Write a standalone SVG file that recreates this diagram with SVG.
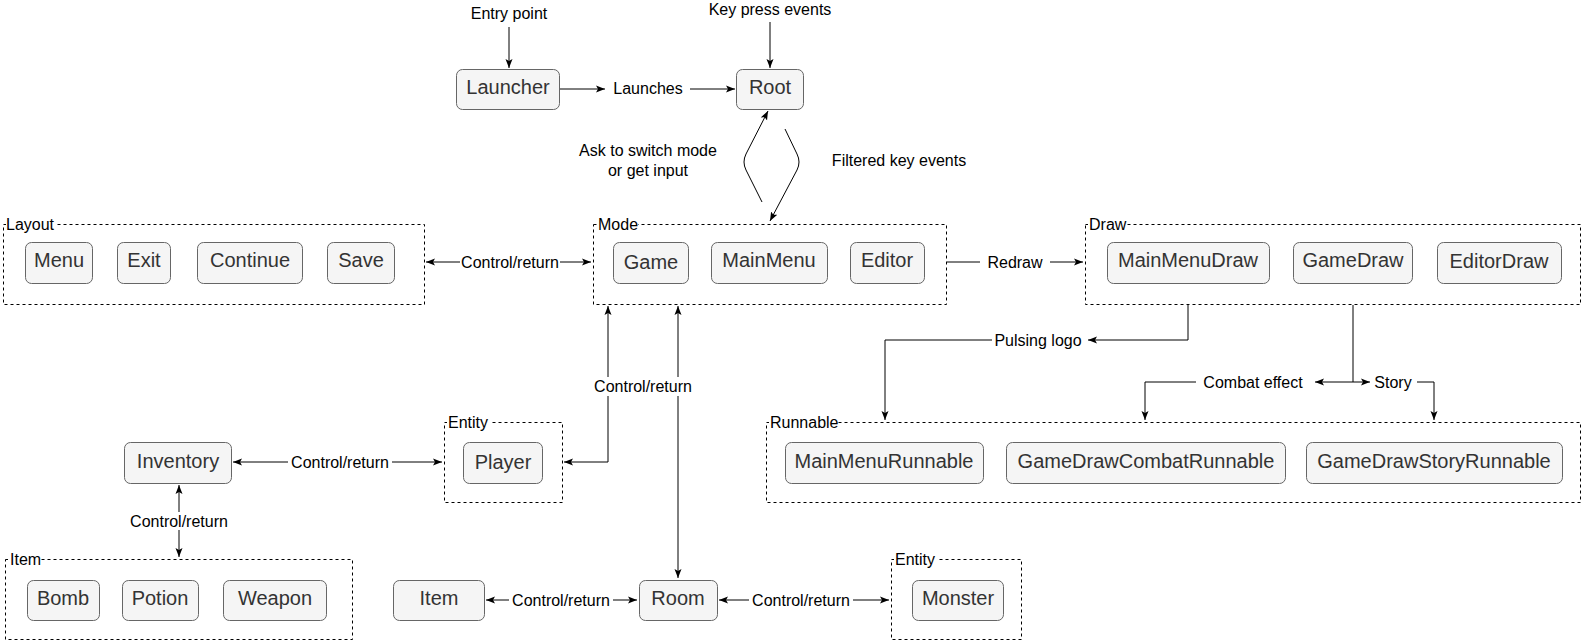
<svg xmlns="http://www.w3.org/2000/svg" width="1583" height="642" viewBox="0 0 1583 642">
<defs>
<marker id="arr" markerUnits="userSpaceOnUse" markerWidth="10" markerHeight="8" refX="9" refY="4" orient="auto-start-reverse">
<path d="M0,0.5 L9,4 L0,7.5 L2,4 Z" fill="#000"/>
</marker>
<style>
.n rect{fill:#f5f5f5;stroke:#666666;stroke-width:1}
.n text{font-family:"Liberation Sans",Arial,sans-serif;font-size:20px;fill:#333333;text-anchor:middle}
.box{fill:none;stroke:#000;stroke-width:1;stroke-dasharray:3 3}
.cl{font-family:"Liberation Sans",Arial,sans-serif;font-size:16px;fill:#000}
.lbl{font-family:"Liberation Sans",Arial,sans-serif;font-size:16px;fill:#000;text-anchor:middle}
.e{fill:none;stroke:#000;stroke-width:1}
.bg{fill:#fff;stroke:none}
</style>
</defs>
<rect width="1583" height="642" fill="#fff"/>

<!-- containers -->
<g id="layout">
<rect class="box" x="3.5" y="224.5" width="421" height="80"/>
<rect class="bg" x="6" y="216" width="49" height="16"/>
<text class="cl" x="6" y="230">Layout</text>
</g>
<g id="mode">
<rect class="box" x="593.5" y="224.5" width="353" height="80"/>
<rect class="bg" x="597" y="216" width="41" height="16"/>
<text class="cl" x="598" y="230">Mode</text>
</g>
<g id="draw">
<rect class="box" x="1085.5" y="224.5" width="495" height="80"/>
<rect class="bg" x="1088" y="216" width="39" height="16"/>
<text class="cl" x="1089" y="230">Draw</text>
</g>
<g id="runnable">
<rect class="box" x="766.5" y="422.5" width="814" height="80"/>
<rect class="bg" x="769" y="414" width="69" height="16"/>
<text class="cl" x="770" y="428">Runnable</text>
</g>
<g id="entity-player">
<rect class="box" x="444.5" y="422.5" width="118" height="80"/>
<rect class="bg" x="447" y="414" width="44" height="16"/>
<text class="cl" x="448" y="428">Entity</text>
</g>
<g id="item-group">
<rect class="box" x="5.5" y="559.5" width="347" height="80"/>
<rect class="bg" x="8" y="551" width="33" height="16"/>
<text class="cl" x="10" y="565">Item</text>
</g>
<g id="entity-monster">
<rect class="box" x="891.5" y="559.5" width="130" height="80"/>
<rect class="bg" x="894" y="551" width="44" height="16"/>
<text class="cl" x="895" y="565">Entity</text>
</g>

<!-- connectors -->
<g id="connectors">
<path class="e" d="M509,27 L509,68" marker-end="url(#arr)"/>
<path class="e" d="M770,22 L770,68" marker-end="url(#arr)"/>
<path class="e" d="M559.5,89 L605,89" marker-end="url(#arr)"/>
<path class="e" d="M689,89 L735,89" marker-end="url(#arr)"/>
<path class="e" d="M762,202 L746,170 Q742,162 746,154 L768,111" marker-end="url(#arr)"/>
<path class="e" d="M785,129 L797,154 Q801,162 797,170 L770,221" marker-end="url(#arr)"/>
<path class="e" d="M426,262 L591,262" marker-start="url(#arr)" marker-end="url(#arr)"/>
<path class="e" d="M947,262 L1083,262" marker-end="url(#arr)"/>
<path class="e" d="M1188,305 L1188,340 L1088,340" marker-end="url(#arr)"/>
<path class="e" d="M994,340 L885,340 L885,420" marker-end="url(#arr)"/>
<path class="e" d="M1353,305 L1353,382 L1315,382" marker-end="url(#arr)"/>
<path class="e" d="M1353,382 L1370,382" marker-end="url(#arr)"/>
<path class="e" d="M1196,382 L1145,382 L1145,420" marker-end="url(#arr)"/>
<path class="e" d="M1417,382 L1434,382 L1434,420" marker-end="url(#arr)"/>
<path class="e" d="M608,306 L608,462 L564,462" marker-start="url(#arr)" marker-end="url(#arr)"/>
<path class="e" d="M678,306 L678,578" marker-start="url(#arr)" marker-end="url(#arr)"/>
<path class="e" d="M233,462 L442,462" marker-start="url(#arr)" marker-end="url(#arr)"/>
<path class="e" d="M179,485 L179,557" marker-start="url(#arr)" marker-end="url(#arr)"/>
<path class="e" d="M486,600 L637,600" marker-start="url(#arr)" marker-end="url(#arr)"/>
<path class="e" d="M719,600 L889,600" marker-start="url(#arr)" marker-end="url(#arr)"/>
</g>

<!-- labels -->
<g id="labels">
<text class="lbl" x="509" y="19">Entry point</text>
<text class="lbl" x="770" y="15">Key press events</text>
<rect class="bg" x="606" y="80" width="84" height="18"/>
<text class="lbl" x="648" y="94">Launches</text>
<text class="lbl" x="648" y="156">Ask to switch mode</text>
<text class="lbl" x="648" y="176">or get input</text>
<text class="lbl" x="899" y="166">Filtered key events</text>
<rect class="bg" x="460" y="253" width="100" height="18"/>
<text class="lbl" x="510" y="268">Control/return</text>
<rect class="bg" x="980" y="253" width="70" height="18"/>
<text class="lbl" x="1015" y="268">Redraw</text>
<rect class="bg" x="992" y="331" width="94" height="18"/>
<text class="lbl" x="1038" y="346">Pulsing logo</text>
<rect class="bg" x="1196" y="373" width="116" height="18"/>
<text class="lbl" x="1253" y="388">Combat effect</text>
<rect class="bg" x="1372" y="373" width="44" height="18"/>
<text class="lbl" x="1393" y="388">Story</text>
<rect class="bg" x="592" y="377" width="104" height="19"/>
<text class="lbl" x="643" y="392">Control/return</text>
<rect class="bg" x="288" y="453" width="104" height="18"/>
<text class="lbl" x="340" y="468">Control/return</text>
<rect class="bg" x="127" y="512" width="104" height="18"/>
<text class="lbl" x="179" y="527">Control/return</text>
<rect class="bg" x="509" y="591" width="104" height="18"/>
<text class="lbl" x="561" y="606">Control/return</text>
<rect class="bg" x="749" y="591" width="104" height="18"/>
<text class="lbl" x="801" y="606">Control/return</text>
</g>

<!-- nodes -->
<g id="launcher" class="n"><rect x="456.5" y="69.5" width="103" height="40" rx="6"/><text x="508" y="94">Launcher</text></g>
<g id="root" class="n"><rect x="736.5" y="69.5" width="67" height="40" rx="6"/><text x="770" y="94">Root</text></g>
<g id="menu" class="n"><rect x="25.5" y="242.5" width="67" height="41" rx="6"/><text x="59" y="267">Menu</text></g>
<g id="exit" class="n"><rect x="117.5" y="242.5" width="53" height="41" rx="6"/><text x="144" y="267">Exit</text></g>
<g id="continue" class="n"><rect x="197.5" y="242.5" width="105" height="41" rx="6"/><text x="250" y="267">Continue</text></g>
<g id="save" class="n"><rect x="327.5" y="242.5" width="67" height="41" rx="6"/><text x="361" y="267">Save</text></g>
<g id="game" class="n"><rect x="613.5" y="242.5" width="75" height="41" rx="6"/><text x="651" y="269">Game</text></g>
<g id="mainmenu" class="n"><rect x="711.5" y="242.5" width="116" height="41" rx="6"/><text x="769" y="267">MainMenu</text></g>
<g id="editor" class="n"><rect x="850.5" y="242.5" width="74" height="41" rx="6"/><text x="887" y="267">Editor</text></g>
<g id="mainmenudraw" class="n"><rect x="1107.5" y="242.5" width="162" height="41" rx="6"/><text x="1188" y="267">MainMenuDraw</text></g>
<g id="gamedraw" class="n"><rect x="1293.5" y="242.5" width="119" height="41" rx="6"/><text x="1353" y="267">GameDraw</text></g>
<g id="editordraw" class="n"><rect x="1437.5" y="242.5" width="124" height="41" rx="6"/><text x="1499" y="268">EditorDraw</text></g>
<g id="mainmenurunnable" class="n"><rect x="785.5" y="442.5" width="198" height="41" rx="6"/><text x="884" y="468">MainMenuRunnable</text></g>
<g id="gamedrawcombatrunnable" class="n"><rect x="1006.5" y="442.5" width="279" height="41" rx="6"/><text x="1146" y="468">GameDrawCombatRunnable</text></g>
<g id="gamedrawstoryrunnable" class="n"><rect x="1306.5" y="442.5" width="256" height="41" rx="6"/><text x="1434" y="468">GameDrawStoryRunnable</text></g>
<g id="inventory" class="n"><rect x="124.5" y="442.5" width="107" height="41" rx="6"/><text x="178" y="468">Inventory</text></g>
<g id="player" class="n"><rect x="463.5" y="442.5" width="79" height="41" rx="6"/><text x="503" y="469">Player</text></g>
<g id="bomb" class="n"><rect x="27.5" y="580.5" width="72" height="40" rx="6"/><text x="63" y="605">Bomb</text></g>
<g id="potion" class="n"><rect x="122.5" y="580.5" width="76" height="40" rx="6"/><text x="160" y="605">Potion</text></g>
<g id="weapon" class="n"><rect x="223.5" y="580.5" width="103" height="40" rx="6"/><text x="275" y="605">Weapon</text></g>
<g id="item" class="n"><rect x="393.5" y="580.5" width="91" height="40" rx="6"/><text x="439" y="605">Item</text></g>
<g id="room" class="n"><rect x="639.5" y="580.5" width="78" height="40" rx="6"/><text x="678" y="605">Room</text></g>
<g id="monster" class="n"><rect x="912.5" y="580.5" width="91" height="40" rx="6"/><text x="958" y="605">Monster</text></g>
</svg>
